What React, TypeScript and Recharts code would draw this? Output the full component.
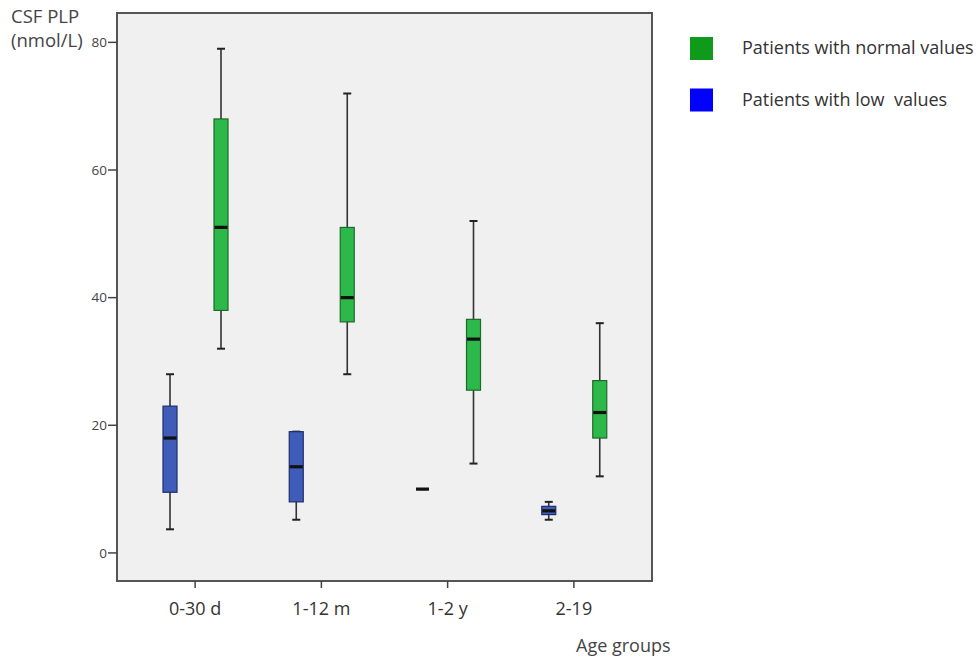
import React from 'react';
import { ComposedChart, Bar, XAxis, YAxis, CartesianGrid, ReferenceArea } from 'recharts';

const categories = ['0-30 d', '1-12 m', '1-2 y', '2-19'];
const lowMin = [3.7, 5.2, 10, 5.2];
const lowQ1 = [9.5, 8, 10, 6];
const lowMed = [18, 13.5, 10, 6.6];
const lowQ3 = [23, 19, 10, 7.3];
const lowMax = [28, 19, 10, 8];
const normMin = [32, 28, 14, 12];
const normQ1 = [38, 36.2, 25.5, 18];
const normMed = [51, 40, 33.5, 22];
const normQ3 = [68, 51, 36.6, 27];
const normMax = [79, 72, 52, 36];
const yTicks = [0, 20, 40, 60, 80];
const yDomain = [-4.4, 84.6];
const legendItems = [
  { label: 'Patients with normal values', color: '#0f9a1c' },
  { label: 'Patients with low  values', color: '#0000ff' },
];

const data = categories.map((c, i) => ({
  cat: c,
  lowW: [lowMin[i], lowMax[i]],
  lowB: [lowQ1[i], lowQ3[i]],
  lowM: [lowMed[i], lowMed[i]],
  normW: [normMin[i], normMax[i]],
  normB: [normQ1[i], normQ3[i]],
  normM: [normMed[i], normMed[i]],
}));

const FONT = '"Open Sans", "Noto Sans", sans-serif';

const Whisker = (props: any) => {
  const { x, y, width, height } = props;
  const cx = x + width / 2;
  const top = Math.min(y, y + height);
  const bot = Math.max(y, y + height);
  return (
    <g>
      <line x1={cx} x2={cx} y1={top} y2={bot} stroke="#333" strokeWidth={1.6} />
      <line x1={cx - 4} x2={cx + 4} y1={top} y2={top} stroke="#222" strokeWidth={2} />
      <line x1={cx - 4} x2={cx + 4} y1={bot} y2={bot} stroke="#222" strokeWidth={2} />
    </g>
  );
};

const makeBox = (fill: string, stroke: string) => (props: any) => {
  const { x, y, width, height } = props;
  const top = Math.min(y, y + height);
  const h = Math.abs(height);
  return <rect x={x} y={top} width={width} height={h} fill={fill} stroke={stroke} strokeWidth={1.2} />;
};

const Median = (props: any) => {
  const { x, y, width } = props;
  return <line x1={x + 0.5} x2={x + width - 0.5} y1={y} y2={y} stroke="#111" strokeWidth={3.2} />;
};

const XTick = (props: any) => {
  const { x, payload } = props;
  return (
    <text x={x} y={615} textAnchor="middle" fontFamily={FONT} fontSize={18} fill="#333">
      {payload.value}
    </text>
  );
};

export default function App() {
  const common = { barSize: 14 };
  return (
    <div style={{ position: 'absolute', left: 0, top: 0, width: 980, height: 663, background: '#fff' }}>
      <ComposedChart
        width={980}
        height={663}
        data={data}
        margin={{ top: 13, right: 328, bottom: 0, left: 0 }}
        barGap={37}
      >
        <CartesianGrid horizontal={false} vertical={false} fill="#f0f0f0" xAxisId="b" />
        <XAxis
          xAxisId="b"
          dataKey="cat"
          height={82}
          padding={{ left: 15, right: 15 }}
          tickSize={7}
          tickLine={{ stroke: '#444', strokeWidth: 1.5 }}
          axisLine={{ stroke: '#555', strokeWidth: 2 }}
          tick={<XTick />}
          interval={0}
        />
        <XAxis xAxisId="w" dataKey="cat" hide padding={{ left: 15, right: 15 }} />
        <XAxis xAxisId="m" dataKey="cat" hide padding={{ left: 15, right: 15 }} />
        <XAxis xAxisId="f" dataKey="cat" hide />
        <YAxis
          type="number"
          domain={yDomain}
          ticks={yTicks}
          allowDataOverflow
          width={117}
          tickSize={9}
          tickMargin={1}
          tickLine={{ stroke: '#444', strokeWidth: 1.5 }}
          axisLine={{ stroke: '#555', strokeWidth: 2 }}
          tick={{ fontFamily: FONT, fontSize: 13.5, fill: '#444' }}
        />
        <ReferenceArea
          xAxisId="f"
          x1={categories[0]}
          x2={categories[categories.length - 1]}
          y1={yDomain[0]}
          y2={yDomain[1]}
          fill="none"
          stroke="#555"
          strokeWidth={2}
          ifOverflow="visible"
        />
        <Bar xAxisId="w" dataKey="lowW" {...common} shape={<Whisker />} isAnimationActive={false} />
        <Bar xAxisId="w" dataKey="normW" {...common} shape={<Whisker />} isAnimationActive={false} />
        <Bar xAxisId="b" dataKey="lowB" {...common} shape={makeBox('#3f5cb8', '#1e2d6e')} isAnimationActive={false} />
        <Bar xAxisId="b" dataKey="normB" {...common} shape={makeBox('#2db84a', '#1d6a2c')} isAnimationActive={false} />
        <Bar xAxisId="m" dataKey="lowM" {...common} shape={<Median />} isAnimationActive={false} />
        <Bar xAxisId="m" dataKey="normM" {...common} shape={<Median />} isAnimationActive={false} />
      </ComposedChart>
      <svg width={980} height={663} style={{ position: 'absolute', left: 0, top: 0, pointerEvents: 'none' }}>
        <text x={11} y={23} fontFamily={FONT} fontSize={18.5} fill="#444">CSF PLP</text>
        <text x={11} y={47} fontFamily={FONT} fontSize={18.5} fill="#444">(nmol/L)</text>
        <text x={576} y={652} fontFamily={FONT} fontSize={18} fill="#444">Age groups</text>
        {legendItems.map((it, i) => (
          <g key={it.label}>
            <rect x={690} y={37 + i * 51.5} width={23} height={23} fill={it.color} />
            <text x={742} y={54 + i * 51.5} fontFamily={FONT} fontSize={18} fill="#333" style={{ whiteSpace: 'pre' }} xmlSpace="preserve">
              {it.label}
            </text>
          </g>
        ))}
      </svg>
    </div>
  );
}
